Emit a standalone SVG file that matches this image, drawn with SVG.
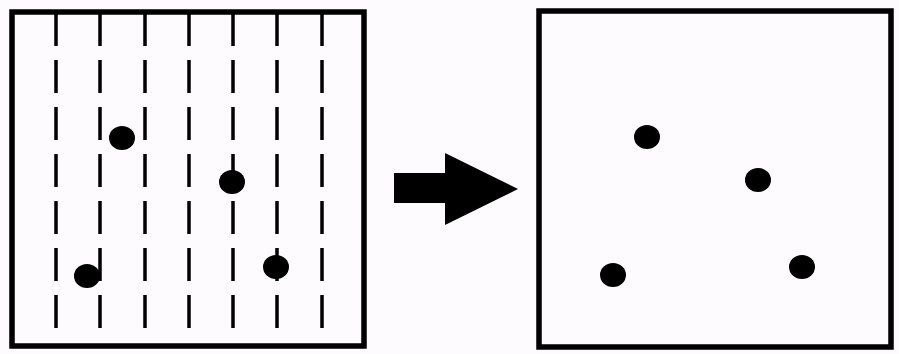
<svg xmlns="http://www.w3.org/2000/svg" width="899" height="354" viewBox="0 0 899 354">
<style>
.box{fill:none;stroke:#000;stroke-width:5.5}
.grid{stroke:#000;stroke-width:3.5;stroke-dasharray:33 14}
.dot{fill:#000}
</style>
<rect width="899" height="354" fill="#fdfbfd"/>
<g id="before">
<rect class="box" x="12" y="12" width="352" height="334"/>
<g id="grid">
<line class="grid" x1="56" y1="13" x2="56" y2="334"/>
<line class="grid" x1="100" y1="13" x2="100" y2="334"/>
<line class="grid" x1="145" y1="13" x2="145" y2="334"/>
<line class="grid" x1="189" y1="13" x2="189" y2="334"/>
<line class="grid" x1="233" y1="13" x2="233" y2="334"/>
<line class="grid" x1="277" y1="13" x2="277" y2="334"/>
<line class="grid" x1="322" y1="13" x2="322" y2="334"/>
</g>
<ellipse class="dot" cx="122" cy="138" rx="13" ry="12"/>
<ellipse class="dot" cx="232" cy="182" rx="13" ry="12"/>
<ellipse class="dot" cx="87" cy="276" rx="13" ry="12"/>
<ellipse class="dot" cx="276" cy="267" rx="13" ry="12"/>
</g>
<g id="connectors">
<polygon points="394,173 445,173 445,153 518,189 445,225 445,203 394,203" fill="#000"/>
</g>
<g id="after">
<rect class="box" x="539" y="11" width="352" height="336"/>
<ellipse class="dot" cx="647" cy="137" rx="13" ry="12"/>
<ellipse class="dot" cx="758" cy="180" rx="13" ry="12"/>
<ellipse class="dot" cx="613" cy="275" rx="13" ry="12"/>
<ellipse class="dot" cx="802" cy="267" rx="13" ry="12"/>
</g>
</svg>
